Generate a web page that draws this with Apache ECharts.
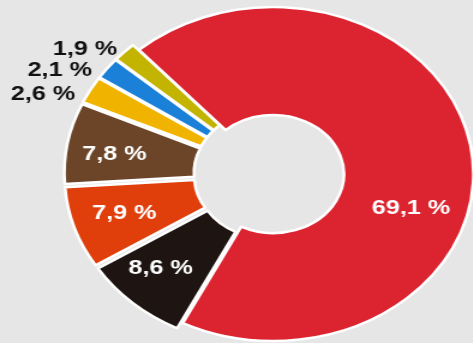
<!DOCTYPE html>
<html>
<head>
<meta charset="utf-8">
<script src="https://cdn.jsdelivr.net/npm/echarts@6/dist/echarts.min.js"></script>
<style>
  html, body { margin: 0; padding: 0; background: #e6e6e6; overflow: hidden; }
  #wrap { width: 473px; height: 343px; overflow: hidden; }
  #chart { width: 394.17px; height: 343px; transform: scaleX(1.2); transform-origin: 0 0; }
</style>
</head>
<body>
<div id="wrap"><div id="chart"></div></div>
<script>
// Data
const categories = ['Grupo 1', 'Grupo 2', 'Grupo 3', 'Grupo 4', 'Grupo 5', 'Grupo 6', 'Grupo 7'];
const values = [69.1, 8.6, 7.9, 7.8, 2.6, 2.1, 1.9];

// Styles
const colors = ['#dc2430', '#1e1512', '#e03f0c', '#6c4529', '#f0b400', '#1a80d8', '#c2b400'];
const labelColors = ['#ffffff', '#ffffff', '#ffffff', '#ffffff', '#111111', '#111111', '#111111'];
const exploded = [false, true, true, true, true, true, true];
const labelShift = [[0, 50], [-11, 3], [-7, 1], [-11, 2], [-84, -20], [-80, -29], [-69, -38]];

const chart = echarts.init(document.getElementById('chart'), null, { renderer: 'canvas' });
chart.setOption({
  backgroundColor: '#e6e6e6',
  animation: false,
  series: [{
    type: 'pie',
    center: [227.5, 174],
    radius: [59, 167],
    startAngle: 132,
    clockwise: true,
    selectedMode: 'multiple',
    selectedOffset: 7,
    avoidLabelOverlap: false,
    emphasis: { disabled: true },
    select: { itemStyle: { borderColor: '#ffffff', borderWidth: 2.5 } },
    itemStyle: { borderColor: '#ffffff', borderWidth: 2.5 },
    label: {
      show: true,
      position: 'inside',
      fontFamily: 'Liberation Sans, Arial, sans-serif',
      fontWeight: 'bold',
      fontSize: 21,
      formatter: p => String(p.value).replace('.', ',') + ' %'
    },
    labelLine: { show: false },
    labelLayout: p => ({ dx: labelShift[p.dataIndex][0], dy: labelShift[p.dataIndex][1] }),
    data: values.map((v, i) => ({
      name: categories[i],
      value: v,
      selected: exploded[i],
      itemStyle: { color: colors[i] },
      label: { color: labelColors[i] }
    }))
  }]
});
</script>
</body>
</html>
